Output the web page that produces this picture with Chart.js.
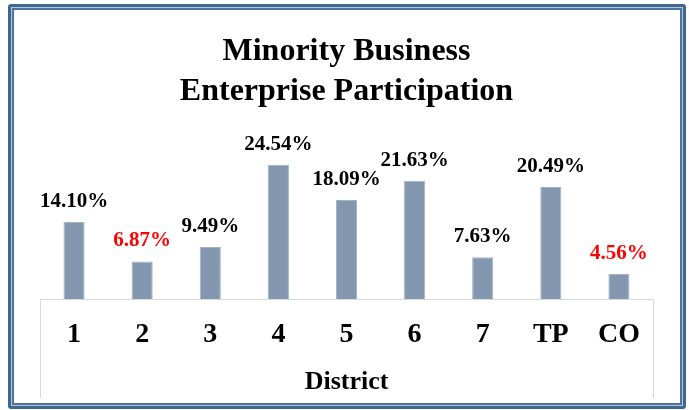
<!DOCTYPE html>
<html>
<head>
<meta charset="utf-8">
<script src="https://cdn.jsdelivr.net/npm/chart.js@4/dist/chart.umd.min.js"></script>
<style>
  html, body { margin: 0; padding: 0; background: #fff; }
  #wrap { position: relative; width: 689px; height: 410px; }
  #frame {
    position: absolute; left: 8px; top: 4px; width: 678px; height: 405px;
    box-sizing: border-box; border: 3px solid #3f6890; border-radius: 3px;
    box-shadow: inset 0 0 0 1px #b3c6dc, inset 0 0 0 3px #4d74a0;
  }
  canvas { position: absolute; left: 0; top: 0; }
</style>
</head>
<body>
<div id="wrap">
  <div id="frame"></div>
  <canvas id="mbeChart" width="689" height="410"></canvas>
</div>
<script>
const districts = ["1", "2", "3", "4", "5", "6", "7", "TP", "CO"];
const participation = [14.10, 6.87, 9.49, 24.54, 18.09, 21.63, 7.63, 20.49, 4.56];
// districts whose value label is shown in red
const flagged = ["2", "CO"];

const serif = "'Liberation Serif', 'Times New Roman', serif";

const valueLabels = {
  id: "valueLabels",
  afterDatasetsDraw(chart) {
    const ctx = chart.ctx;
    const meta = chart.getDatasetMeta(0);
    ctx.save();
    ctx.font = "bold 21px " + serif;
    ctx.textAlign = "center";
    ctx.textBaseline = "alphabetic";
    meta.data.forEach((bar, i) => {
      ctx.fillStyle = flagged.includes(districts[i]) ? "#ff0000" : "#000000";
      ctx.fillText(participation[i].toFixed(2) + "%", bar.x, bar.y - 15);
    });
    ctx.restore();
  }
};

// x axis: tick marks run 99px down; negative padding pulls the labels back up,
// the title padding makes up the lost height (fit() counts padding twice)
const tickLen = 99;
const tickPad = -80;
const labelLine = 28 * 1.2;
const titleLine = 26 * 1.2;
const titleTop = tickLen - (tickLen + labelLine + 2 * tickPad) - titleLine;

new Chart(document.getElementById("mbeChart"), {
  type: "bar",
  data: {
    labels: districts,
    datasets: [
      {
        data: participation,
        backgroundColor: "#8497b0",
        borderColor: "#a3b2c6",
        borderWidth: 1,
        barPercentage: 1,
        categoryPercentage: 0.31
      }
    ]
  },
  options: {
    responsive: false,
    animation: false,
    layout: { padding: { left: 40, right: 36, top: 0, bottom: 12 } },
    plugins: {
      legend: { display: false },
      tooltip: { enabled: false },
      title: {
        display: true,
        text: ["Minority Business", "Enterprise Participation"],
        color: "#000",
        font: { family: serif, size: 32, weight: "bold", lineHeight: 1.25 },
        padding: { top: 32, bottom: 23 }
      }
    },
    scales: {
      y: { display: false, min: 0, max: 30 },
      x: {
        border: { display: true, color: "#d9d9d9", width: 1 },
        grid: {
          offset: true,
          drawOnChartArea: false,
          drawTicks: true,
          tickLength: tickLen,
          lineWidth: 1,
          color: (c) => (c.type === "scale" || c.index === 0) ? "#d9d9d9" : "rgba(0,0,0,0)"
        },
        ticks: {
          color: "#000",
          padding: tickPad,
          font: { family: serif, size: 28, weight: "bold", lineHeight: 1.2 }
        },
        title: {
          display: true,
          text: "District",
          color: "#000",
          font: { family: serif, size: 26, weight: "bold", lineHeight: 1.2 },
          padding: { top: titleTop, bottom: 0 }
        }
      }
    }
  },
  plugins: [valueLabels]
});
</script>
</body>
</html>
